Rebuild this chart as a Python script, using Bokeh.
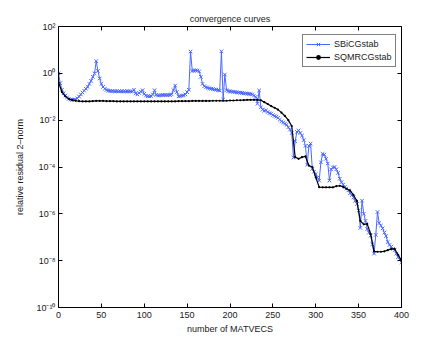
import numpy as np
from bokeh.plotting import figure
from bokeh.models import (LogAxis, LinearAxis, FixedTicker, CustomJSTickFormatter, Range1d)
from bokeh.embed import file_html
from bokeh.resources import INLINE

# ---- data (log10 of relative residual 2-norm) ----
sbicg_matvecs = list(range(0, 401, 2))
sbicg_log10 = [
    0.0, -0.42, -0.7, -0.85, -0.95, -1.03, -1.09, -1.12, -1.13, -1.13,
    -1.12, -1.07, -0.99, -0.9, -0.82, -0.74, -0.66, -0.58, -0.45, -0.32,
    -0.15, 0.0, 0.52, 0.1, -0.22, -0.45, -0.58, -0.66, -0.71, -0.74,
    -0.75, -0.76, -0.76, -0.77, -0.76, -0.77, -0.77, -0.76, -0.77, -0.77,
    -0.76, -0.77, -0.77, -0.78, -0.7, -0.86, -0.9, -0.84, -0.78, -0.72,
    -0.88, -0.95, -0.98, -0.98, -0.97, -0.9, -0.72, -0.92, -0.95, -0.94,
    -0.93, -0.93, -0.92, -0.93, -0.92, -0.93, -0.9, -0.72, -0.52, -0.8,
    -0.98, -0.97, -0.95, -0.94, -0.9, -0.8, -0.7, 0.93, 0.1, 0.12,
    0.13, 0.12, 0.08, -0.15, -0.45, -0.55, -0.6, -0.62, -0.64, -0.66,
    -0.67, -0.69, -0.7, -0.72, -0.74, 0.94, -1.12, -0.05, -0.72, -0.76,
    -0.77, -0.78, -0.79, -0.8, -0.81, -0.82, -0.83, -0.84, -0.85, -0.86,
    -0.87, -0.88, -0.88, -0.9, -0.95, -1.0, -1.3, -0.73, -1.45, -1.55,
    -1.6, -1.58, -1.65, -1.7, -1.72, -1.78, -1.82, -1.85, -1.9, -1.98,
    -2.05, -2.1, -2.15, -2.2, -2.3, -2.4, -2.55, -3.6, -2.9, -2.5,
    -2.44, -2.55, -2.66, -2.85, -3.1, -3.9, -3.1, -3.0, -4.08, -4.2,
    -4.3, -4.45, -4.58, -3.8, -3.44, -3.47, -3.65, -3.85, -4.58, -4.1,
    -4.02, -4.0, -4.1, -4.25, -4.5, -4.65, -4.75, -4.85, -4.92, -5.0,
    -5.12, -5.2, -5.3, -5.44, -5.58, -5.86, -6.6, -5.44, -6.0, -6.3,
    -6.65, -6.8, -6.93, -7.3, -7.7, -6.9, -5.92, -6.4, -6.5, -6.62,
    -6.8, -6.95, -7.2, -7.33, -7.4, -7.5, -7.55, -7.7, -7.85, -7.95,
    -8.07,
]

sqmr_matvecs = list(range(0, 401, 4))
sqmr_log10 = [
    -0.38, -0.8, -0.98, -1.09, -1.14, -1.17, -1.19, -1.2, -1.2, -1.2,
    -1.19, -1.18, -1.18, -1.18, -1.19, -1.19, -1.19, -1.2, -1.2, -1.2,
    -1.2, -1.2, -1.2, -1.2, -1.2, -1.2, -1.2, -1.2, -1.2, -1.2,
    -1.2, -1.2, -1.2, -1.2, -1.2, -1.19, -1.19, -1.19, -1.19, -1.18,
    -1.18, -1.18, -1.18, -1.18, -1.18, -1.17, -1.17, -1.17, -1.17, -1.17,
    -1.16, -1.16, -1.15, -1.15, -1.14, -1.13, -1.13, -1.13, -1.13, -1.15,
    -1.23, -1.31, -1.4, -1.47, -1.55, -1.68, -1.82, -2.0, -2.25, -3.58,
    -3.65, -3.58, -3.55, -3.94, -4.0, -4.44, -4.86, -4.87, -4.87, -4.87,
    -4.87, -4.82, -4.8, -4.85, -4.93, -5.0, -5.2, -5.45, -6.3, -6.45,
    -6.43, -6.86, -7.6, -7.62, -7.62, -7.6, -7.55, -7.5, -7.5, -7.75,
    -8.0,
]

x_ticks = [0, 50, 100, 150, 200, 250, 300, 350, 400]
y_ticks = [1e-10, 1e-8, 1e-6, 1e-4, 1e-2, 1e0, 1e2]

sbicg_res = 10.0 ** np.array(sbicg_log10)
sqmr_res = 10.0 ** np.array(sqmr_log10)

FONT = "Liberation Sans"
FS = "9px"
TXT = "#1a1a1a"
BLUE = "#4a68ff"

p = figure(frame_width=343, frame_height=281, y_axis_type="log",
           x_range=Range1d(0, 400), y_range=Range1d(1e-10, 1e2),
           output_backend="svg", toolbar_location=None,
           title="convergence curves",
           min_border_left=58, min_border_right=28,
           min_border_top=26, min_border_bottom=39)

p.title.align = "center"
p.title.text_font = FONT
p.title.text_font_size = FS
p.title.text_font_style = "normal"
p.title.text_color = TXT
p.title.standoff = 6

p.grid.visible = False
p.outline_line_color = "black"
p.outline_line_width = 1
p.background_fill_color = "white"
p.border_fill_color = "white"

sup = ("const sup={'-':'\u207b','0':'\u2070','1':'\u00b9','2':'\u00b2','3':'\u00b3',"
       "'4':'\u2074','5':'\u2075','6':'\u2076','7':'\u2077','8':'\u2078','9':'\u2079'};"
       "const e=Math.round(Math.log10(tick));"
       "return '10'+String(e).split('').map(c=>sup[c]).join('');")

bottom = p.xaxis[0]
left = p.yaxis[0]
bottom.ticker = FixedTicker(ticks=x_ticks)
bottom.axis_label = "number of MATVECS"
left.ticker = FixedTicker(ticks=y_ticks)
left.formatter = CustomJSTickFormatter(code=sup)
left.axis_label = "relative residual 2\u2013norm"

top = LinearAxis(ticker=FixedTicker(ticks=x_ticks),
                 formatter=CustomJSTickFormatter(code="return '';"))
right = LogAxis(ticker=FixedTicker(ticks=y_ticks),
                formatter=CustomJSTickFormatter(code="return '';"))
p.add_layout(top, "above")
p.add_layout(right, "right")

for ax in [bottom, left, top, right]:
    ax.major_tick_in = 4
    ax.major_tick_out = 0
    ax.minor_tick_in = 0
    ax.minor_tick_out = 0
    ax.axis_line_color = "black"
    ax.major_tick_line_color = "black"
    ax.major_label_text_font = FONT
    ax.major_label_text_font_size = FS
    ax.major_label_text_color = TXT
    ax.major_label_standoff = 4
    ax.axis_label_text_font = FONT
    ax.axis_label_text_font_size = FS
    ax.axis_label_text_font_style = "normal"
    ax.axis_label_text_color = TXT
    ax.axis_label_standoff = 3

left.major_label_standoff = 3
left.axis_label_standoff = 8
top.major_label_standoff = 0
right.major_label_standoff = 0

p.line(sbicg_matvecs, sbicg_res, color=BLUE, line_width=1, legend_label="SBiCGstab")
p.scatter(sbicg_matvecs, sbicg_res, marker="x", size=5, line_color=BLUE,
          line_width=1, legend_label="SBiCGstab")
p.line(sqmr_matvecs, sqmr_res, color="black", line_width=1.2, legend_label="SQMRCGstab")
p.scatter(sqmr_matvecs, sqmr_res, marker="circle", size=2.2, fill_color="black",
          line_color=None, legend_label="SQMRCGstab")

lg = p.legend[0]
lg.location = (244, 240)
lg.margin = 0
lg.padding = 3
lg.spacing = 1
lg.glyph_width = 24
lg.glyph_height = 12
lg.label_standoff = 4
lg.label_height = 12
lg.label_text_font = FONT
lg.label_text_font_size = FS
lg.label_text_color = TXT
lg.border_line_color = "black"
lg.border_line_width = 1
lg.background_fill_color = "white"

open("out.html", "w").write(file_html(p, INLINE))
